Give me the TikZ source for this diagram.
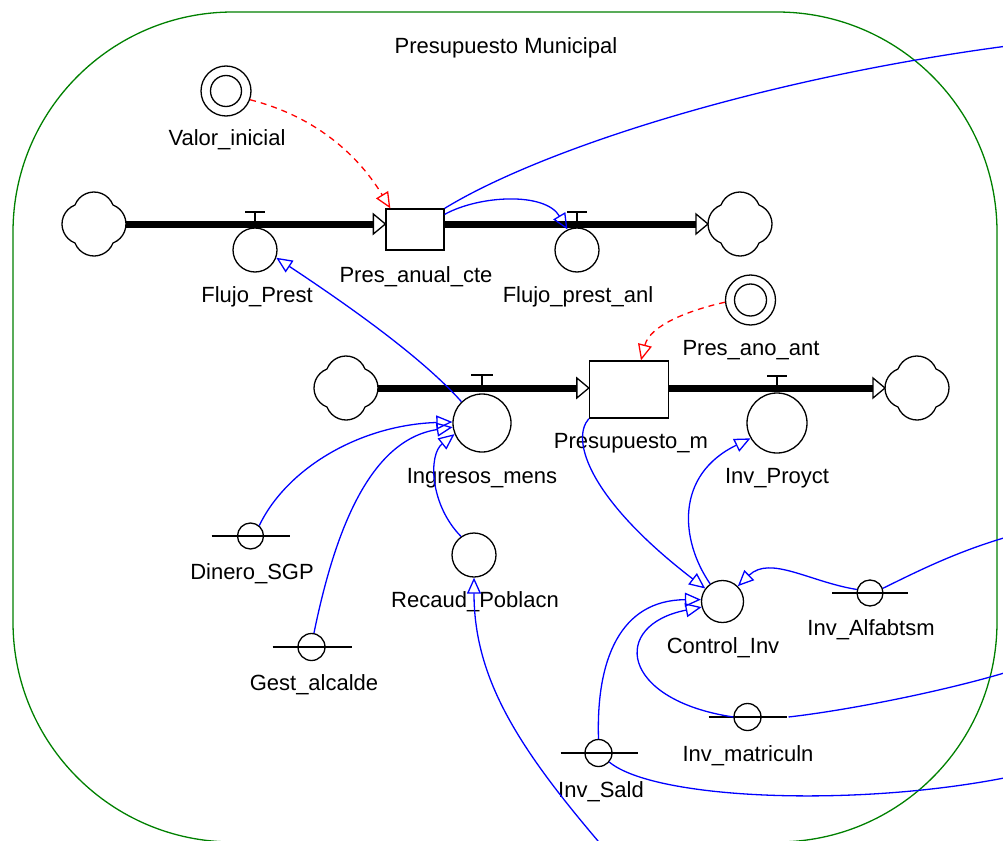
\documentclass[tikz,border=0pt]{standalone}
\usepackage{fontspec}
\setmainfont{Liberation Sans}
\usetikzlibrary{arrows.meta}
\definecolor{framegreen}{RGB}{0,128,0}
\definecolor{linkblue}{RGB}{0,0,255}
\definecolor{initred}{RGB}{255,0,0}
\begin{document}
\begin{tikzpicture}[x=1pt,y=-1pt,
  thinline/.style={line width=1.3pt},
  lbl/.style={anchor=base, inner sep=0pt, font=\fontsize{22}{26}\selectfont},
  valve/.style={circle, draw, thinline, inner sep=0pt, minimum size=#1},
  aux/.style={circle, draw, thinline, inner sep=0pt, minimum size=#1},
  stockbox/.style={rectangle, draw, thinline, inner sep=0pt},
  cloudnode/.style={circle, inner sep=0pt, outer sep=0pt, minimum size=64pt},
  pipe/.style={line width=7pt},
  link/.style={draw=linkblue, thinline, -{Triangle[open, length=16pt, width=14pt]}},
  plainlink/.style={draw=linkblue, thinline},
  initlink/.style={draw=initred, thinline, dash pattern=on 6pt off 5pt, -{Triangle[open, length=16pt, width=14pt]}},
  srccloud/.pic={\draw[thinline] (19,-19) arc[start angle=-68.7,end angle=68.7,radius=20.4]
      arc[start angle=21.3,end angle=158.7,radius=20.4]
      arc[start angle=111.3,end angle=248.7,radius=20.4]
      arc[start angle=201.3,end angle=338.7,radius=20.4] -- cycle;}
]
\useasboundingbox (0,0) rectangle (1003,840);
\clip (0,0) rectangle (1003,840);

% frame
\draw[framegreen, thinline, rounded corners=220pt] (13,12) rectangle (997,842);
\node[lbl] (title) at (506,54) {Presupuesto Municipal};

% ---------- top flow ----------
\node[cloudnode] (cA) at (94,224) {};
\pic at (cA) {srccloud};
\node[cloudnode] (cB) at (740,224) {};
\pic at (cB) {srccloud};
\node[stockbox, minimum width=58pt, minimum height=41pt] (sA) at (415,229.5) {};
\node[valve=44pt] (fp) at (255,250) {};
\node[valve=44pt] (fpa) at (577,250) {};

\draw[pipe] (cA.east) -- ([xshift=-12pt]cA.east -| sA.west);
\draw[pipe] (sA.east |- cB.west) -- ([xshift=-12pt]cB.west);
\draw[thinline, fill=white] ([xshift=-12pt,yshift=10pt]cA.east -| sA.west) -- (cA.east -| sA.west) -- ([xshift=-12pt,yshift=-10pt]cA.east -| sA.west) -- cycle;
\draw[thinline, fill=white] ([xshift=-12pt,yshift=10pt]cB.west) -- (cB.west) -- ([xshift=-12pt,yshift=-10pt]cB.west) -- cycle;
% valve handles
\draw[thinline] (255,212) -- (255,224) (245,212) -- (265,212);
\draw[thinline] (577,212) -- (577,224) (567,212) -- (587,212);

\node[aux=50pt] (vi) at (226,91) {};
\draw[thinline] (vi.center) circle[radius=15.5];

\node[lbl] (lvi) at (227,146) {Valor\_inicial};
\node[lbl] (lfp) at (257,302) {Flujo\_Prest};
\node[lbl] (lsA) at (416,282) {Pres\_anual\_cte};
\node[lbl] (lfpa) at (578,302) {Flujo\_prest\_anl};

% ---------- middle flow ----------
\node[cloudnode] (cC) at (346,388) {};
\pic at (cC) {srccloud};
\node[cloudnode] (cD) at (917,388) {};
\pic at (cD) {srccloud};
\node[stockbox, minimum width=79pt, minimum height=57pt] (sB) at (629,389.5) {};
\node[valve=58pt] (im) at (482,423) {};
\node[valve=60pt] (ip) at (777,423) {};

\draw[pipe] (cC.east) -- ([xshift=-12pt]cC.east -| sB.west);
\draw[pipe] (sB.east |- cD.west) -- ([xshift=-12pt]cD.west);
\draw[thinline, fill=white] ([xshift=-12pt,yshift=10pt]cC.east -| sB.west) -- (cC.east -| sB.west) -- ([xshift=-12pt,yshift=-10pt]cC.east -| sB.west) -- cycle;
\draw[thinline, fill=white] ([xshift=-12pt,yshift=10pt]cD.west) -- (cD.west) -- ([xshift=-12pt,yshift=-10pt]cD.west) -- cycle;
\draw[thinline] (482,375) -- (482,388) (471,375) -- (493,375);
\draw[thinline] (777,376) -- (777,388) (767,376) -- (787,376);

\node[aux=50pt] (paa) at (750.5,300) {};
\draw[thinline] (paa.center) circle[radius=16];

\node[lbl] (lpaa) at (751,355) {Pres\_ano\_ant};
\node[lbl] (lsB) at (631,448) {Presupuesto\_m};
\node[lbl] (lim) at (482,483) {Ingresos\_mens};
\node[lbl] (lip) at (777,483) {Inv\_Proyct};

% ---------- auxiliaries ----------
\node[aux=44pt] (rp) at (474,555) {};
\node[aux=26pt] (ds) at (250.5,536) {};
\draw[thinline] ([xshift=-39pt]ds.center) -- ([xshift=39pt]ds.center);
\node[aux=27pt] (ga) at (311.5,647) {};
\draw[thinline] ([xshift=-39pt]ga.center) -- ([xshift=40pt]ga.center);
\node[aux=42pt] (ci) at (722.5,601.5) {};
\node[aux=26pt] (ial) at (870,593) {};
\draw[thinline] ([xshift=-38pt]ial.center) -- ([xshift=38pt]ial.center);
\node[aux=27pt] (imt) at (747.5,717) {};
\draw[thinline] ([xshift=-39pt]imt.center) -- ([xshift=39pt]imt.center);
\node[aux=27pt] (isd) at (598.5,753) {};
\draw[thinline] ([xshift=-38pt]isd.center) -- ([xshift=39pt]isd.center);

\node[lbl] (lrp) at (475,607) {Recaud\_Poblacn};
\node[lbl] (lds) at (252,579) {Dinero\_SGP};
\node[lbl] (lga) at (314,690) {Gest\_alcalde};
\node[lbl] (lci) at (723,653) {Control\_Inv};
\node[lbl] (lial) at (871,635) {Inv\_Alfabtsm};
\node[lbl] (limt) at (748,761) {Inv\_matriculn};
\node[lbl] (lisd) at (601,797) {Inv\_Sald};

% off-picture ends
\coordinate (offA) at (1015,45);
\coordinate (offB) at (604,848);
\coordinate (offC) at (1014,535);
\coordinate (offD) at (1014,670);
\coordinate (offE) at (1014,776);

% ---------- red initial links ----------
\draw[initlink] (vi.-20) .. controls (310,115) and (355,150) .. ([xshift=5pt]sA.north west);
\draw[initlink] (paa.185) .. controls (690,310) and (650,325) .. ([xshift=12pt]sB.north);

% ---------- blue links ----------
\draw[plainlink] (sA.north east) .. controls (540,150) and (760,78) .. (offA);
\draw[link] ([yshift=-6pt]sA.north east) .. controls (480,195) and (545,192) .. (fpa.115);
\draw[link] (im.134) .. controls (420,355) and (340,300) .. (fp.-20);
\draw[link] (ds.50) .. controls (287,468) and (360,425) .. (im.178);
\draw[link] (ga.80) .. controls (335,530) and (370,440) .. (im.188);
\draw[link] (rp.125) .. controls (430,505) and (428,455) .. (im.202);
\draw[link] (offB) .. controls (520,750) and (474,680) .. (rp.south);
\draw[link] (sB.south west) .. controls (570,440) and (590,500) .. (ci.143);
\draw[link] (ci.125) .. controls (680,540) and (675,475) .. (ip.210);
\draw[link] (ial.165) .. controls (810,582) and (770,555) .. (ci.45);
\draw[plainlink] (ial.20) .. controls (920,570) and (960,550) .. (offC);
\draw[link] (imt.west) .. controls (620,700) and (610,625) .. (ci.195);
\draw[link] (isd.north) .. controls (596,660) and (620,600) .. (ci.175);
\draw[plainlink] ([xshift=41pt]imt.center) .. controls (850,710) and (950,690) .. (offD);
\draw[plainlink] (isd.-40) .. controls (655,800) and (860,808) .. (offE);
\end{tikzpicture}
\end{document}
